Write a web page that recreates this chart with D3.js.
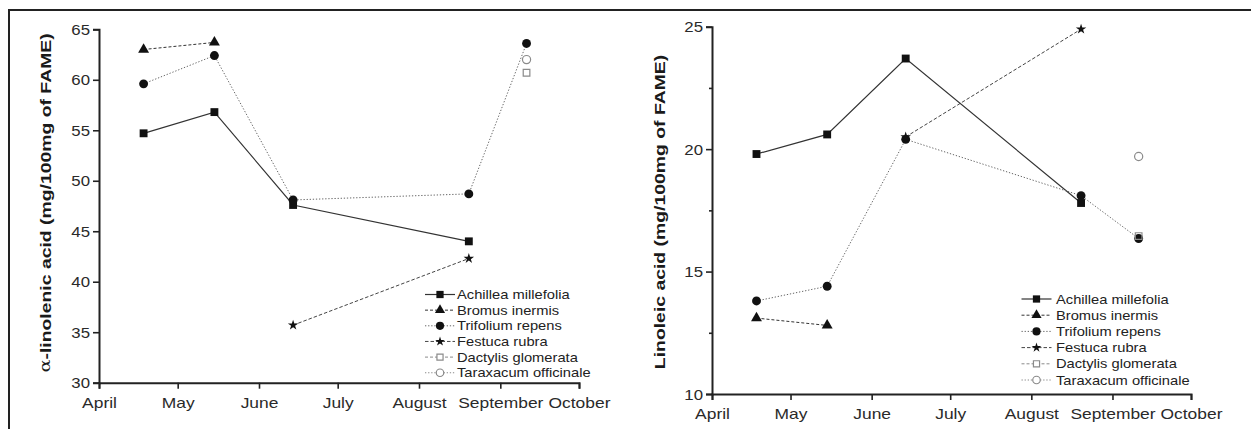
<!DOCTYPE html>
<html>
<head>
<meta charset="utf-8">
<script src="https://cdn.jsdelivr.net/npm/d3@7/dist/d3.min.js"></script>
<style>
  html, body { margin: 0; padding: 0; background: #fff; }
  svg { display: block; font-family: "Liberation Sans", Arial, sans-serif; }
</style>
</head>
<body>
<svg id="chart" width="1251" height="429"></svg>
<script>
// Sampling dates (same for both panels)
const sampleDates = [
  new Date(Date.UTC(2000, 3, 18)),
  new Date(Date.UTC(2000, 4, 15)),
  new Date(Date.UTC(2000, 5, 14)),
  new Date(Date.UTC(2000, 7, 20)),
  new Date(Date.UTC(2000, 8, 11))
];

// Month ticks on the x axis
const monthLabels = ["April", "May", "June", "July", "August", "September", "October"];
const monthStarts = [3, 4, 5, 6, 7, 8, 9].map(m => new Date(Date.UTC(2000, m, 1)));

// Species
const species = [
  "Achillea millefolia",
  "Bromus inermis",
  "Trifolium repens",
  "Festuca rubra",
  "Dactylis glomerata",
  "Taraxacum officinale"
];

// α-linolenic acid (mg/100mg of FAME), one value per sampling date
const alaAchillea   = [54.7, 56.8, 47.6, 44.0, null];
const alaBromus     = [63.0, 63.7, null, null, null];
const alaTrifolium  = [59.6, 62.4, 48.1, 48.7, 63.6];
const alaFestuca    = [null, null, 35.7, 42.3, null];
const alaDactylis   = [null, null, null, null, 60.7];
const alaTaraxacum  = [null, null, null, null, 62.0];

// Linoleic acid (mg/100mg of FAME)
const laAchillea    = [19.8, 20.6, 23.7, 17.8, null];
const laBromus      = [13.1, 12.8, null, null, null];
const laTrifolium   = [13.8, 14.4, 20.4, 18.1, 16.35];
const laFestuca     = [null, null, 20.5, 24.9, null];
const laDactylis    = [null, null, null, null, 16.45];
const laTaraxacum   = [null, null, null, null, 19.7];

// Y ticks
const alaTicks = [30, 35, 40, 45, 50, 55, 60, 65];
const laTicks = [10, 15, 20, 25];
const laMinorTicks = [12.5, 17.5, 22.5];

// Per-species drawing style
const styles = [
  { symbol: d3.symbolSquare,   size: 62, filled: true,  stroke: "#333", width: 1.2, dash: null },
  { symbol: d3.symbolTriangle, size: 52, filled: true,  stroke: "#333", width: 1.0, dash: "3,2" },
  { symbol: d3.symbolCircle,   size: 62, filled: true,  stroke: "#666", width: 1.0, dash: "1.3,1.8" },
  { symbol: d3.symbolStar,     size: 34, filled: true,  stroke: "#444", width: 1.0, dash: "3.5,2" },
  { symbol: d3.symbolSquare,   size: 44, filled: false, stroke: "#8a8a8a", width: 1.0, dash: "3,2" },
  { symbol: d3.symbolCircle,   size: 52, filled: false, stroke: "#8a8a8a", width: 1.0, dash: "1.3,1.8" }
];

const svg = d3.select("#chart");

// stretch text horizontally (along its own direction)
function widen(sel, k) {
  sel.each(function () {
    const w = this.getComputedTextLength();
    d3.select(this).attr("textLength", w * k).attr("lengthAdjust", "spacingAndGlyphs");
  });
}

// outer frame: top and left rules
svg.append("line").attr("x1", 8).attr("x2", 1251).attr("y1", 10).attr("y2", 10)
  .attr("stroke", "#222").attr("stroke-width", 2);
svg.append("line").attr("x1", 9).attr("x2", 9).attr("y1", 9).attr("y2", 429)
  .attr("stroke", "#222").attr("stroke-width", 2);

function panel(cfg) {
  const x = d3.scaleUtc()
    .domain([monthStarts[0], monthStarts[monthStarts.length - 1]])
    .range([cfg.left, cfg.right]);
  const y = d3.scaleLinear().domain(cfg.domain).range([cfg.bottom, cfg.top]);

  const g = svg.append("g");

  // y axis
  const ya = g.append("g").attr("transform", `translate(${cfg.left},0)`)
    .call(d3.axisLeft(y).tickValues(cfg.ticks).tickSize(6).tickSizeOuter(6).tickPadding(3).tickFormat(d3.format("d")));
  if (cfg.minor) {
    g.append("g").attr("transform", `translate(${cfg.left},0)`)
      .call(d3.axisLeft(y).tickValues(cfg.minor).tickSize(3).tickSizeOuter(0).tickFormat(""))
      .call(a => a.select(".domain").remove());
  }

  // x axis
  const xa = g.append("g").attr("transform", `translate(0,${cfg.bottom})`)
    .call(d3.axisBottom(x).tickValues(monthStarts).tickSize(6).tickSizeOuter(6).tickPadding(6)
      .tickFormat((d, i) => monthLabels[i]));

  g.selectAll(".domain").attr("stroke", "#222").attr("stroke-width", 2);
  g.selectAll(".tick line").attr("stroke", "#222").attr("stroke-width", 1.6);
  g.selectAll(".tick text").attr("fill", "#2a2a2a").attr("font-family", "Liberation Sans, Arial, sans-serif");
  ya.selectAll(".tick text").attr("font-size", 14).attr("dy", "0.36em");
  xa.selectAll(".tick text").attr("font-size", 14.5).attr("dy", "0.9em");
  widen(ya.selectAll(".tick text"), 1.2);
  widen(xa.selectAll(".tick text"), 1.2);

  // y axis title
  const t = g.append("text")
    .attr("transform", `translate(${cfg.titleX},${cfg.titleY}) rotate(-90)`)
    .attr("text-anchor", "middle")
    .attr("dominant-baseline", "central")
    .attr("font-size", 15.5)
    .attr("font-weight", "bold")
    .attr("fill", "#1a1a1a");
  cfg.title(t);
  widen(t, 1.25);

  // series lines
  const line = d3.line()
    .defined(d => d.v != null)
    .x(d => x(d.date))
    .y(d => y(d.v));

  cfg.series.forEach((vals, i) => {
    const st = styles[i];
    const pts = vals.map((v, j) => ({ date: sampleDates[j], v }));
    g.append("path")
      .datum(pts)
      .attr("d", line)
      .attr("fill", "none")
      .attr("stroke", st.stroke)
      .attr("stroke-width", st.width)
      .attr("stroke-dasharray", st.dash);
  });

  // markers
  cfg.series.forEach((vals, i) => {
    const st = styles[i];
    const pts = vals.map((v, j) => ({ date: sampleDates[j], v })).filter(d => d.v != null);
    g.selectAll(null)
      .data(pts)
      .join("path")
      .attr("transform", d => `translate(${x(d.date)},${y(d.v)})`)
      .attr("d", d3.symbol().type(st.symbol).size(st.size))
      .attr("fill", st.filled ? "#111" : "none")
      .attr("stroke", st.filled ? "none" : st.stroke)
      .attr("stroke-width", 1.2);
  });

  // legend
  const lg = g.append("g");
  species.forEach((name, i) => {
    const st = styles[i];
    const cy = cfg.legY + i * cfg.legStep;
    lg.append("line")
      .attr("x1", cfg.legX).attr("x2", cfg.legX + 30)
      .attr("y1", cy).attr("y2", cy)
      .attr("stroke", st.stroke)
      .attr("stroke-width", st.width)
      .attr("stroke-dasharray", st.dash);
    lg.append("path")
      .attr("transform", `translate(${cfg.legX + 15},${cy})`)
      .attr("d", d3.symbol().type(st.symbol).size(st.size * 0.85))
      .attr("fill", st.filled ? "#111" : "#fff")
      .attr("stroke", st.filled ? "none" : st.stroke)
      .attr("stroke-width", 1.2);
    const tx = lg.append("text")
      .attr("x", cfg.legX + cfg.legGap)
      .attr("y", cy)
      .attr("dy", "0.36em")
      .attr("font-size", 13)
      .attr("fill", "#222")
      .text(name);
    widen(tx, 1.13);
  });
}

panel({
  left: 99, right: 579, top: 29.3, bottom: 382.7,
  domain: [30, 65], ticks: alaTicks, minor: null,
  series: [alaAchillea, alaBromus, alaTrifolium, alaFestuca, alaDactylis, alaTaraxacum],
  titleX: 44.5, titleY: 203,
  title: t => { t.append("tspan").attr("font-family", "DejaVu Serif, serif").attr("font-weight", "normal").text("α"); t.append("tspan").text("-linolenic acid (mg/100mg of FAME)"); },
  legX: 425, legGap: 32, legY: 294.5, legStep: 15.65
});

panel({
  left: 712, right: 1191, top: 26.7, bottom: 394,
  domain: [10, 25], ticks: laTicks, minor: laMinorTicks,
  series: [laAchillea, laBromus, laTrifolium, laFestuca, laDactylis, laTaraxacum],
  titleX: 659, titleY: 212,
  title: t => t.text("Linoleic acid (mg/100mg of FAME)"),
  legX: 1021.5, legGap: 34.5, legY: 299, legStep: 16.2
});
</script>
</body>
</html>
